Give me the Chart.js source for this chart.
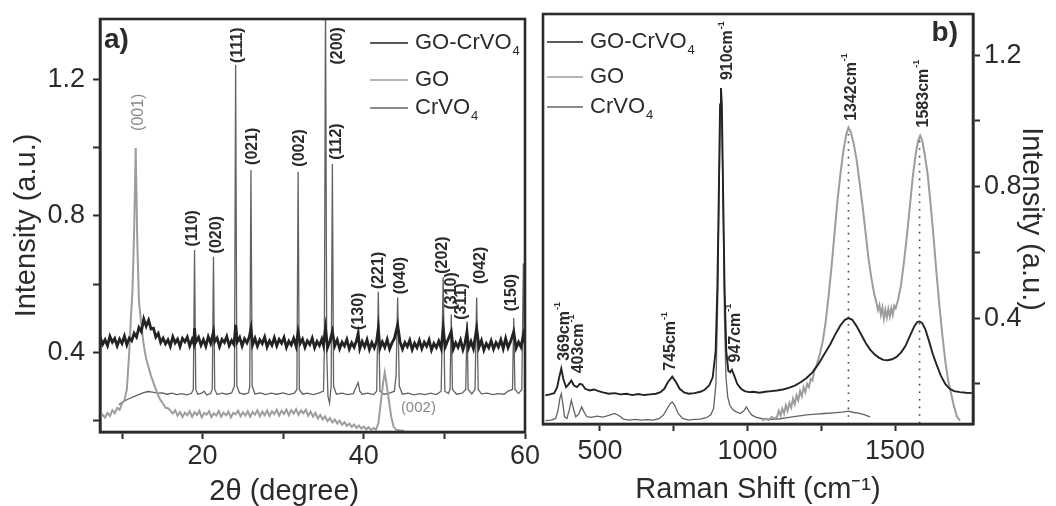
<!DOCTYPE html>
<html>
<head>
<meta charset="utf-8">
<title>XRD and Raman spectra</title>
<script src="https://cdn.jsdelivr.net/npm/chart.js@4.4.1/dist/chart.umd.min.js"></script>
<style>
  body { margin: 0; background: #fff; }
  #wrap { position: relative; width: 1056px; height: 506px; overflow: hidden; }
  canvas { position: absolute; top: 0; }
  #xrd { left: 0; }
  #raman { left: 530px; }
</style>
</head>
<body>
<div id="wrap">
  <canvas id="xrd" width="545" height="506"></canvas>
  <canvas id="raman" width="526" height="506"></canvas>
</div>
<script>
// Data
const seriesNames = ["GO-CrVO4", "GO", "CrVO4"];

// a) XRD, x = 2θ in degrees
const xrdComposite = [[7.3,0.443],[7.6,0.423],[7.9,0.436],[8.2,0.419],[8.5,0.446],[8.8,0.429],[9.1,0.44],[9.4,0.418],[9.7,0.438],[10.0,0.425],[10.3,0.447],[10.6,0.421],[10.9,0.441],[11.2,0.433],[11.5,0.455],[11.8,0.444],[12.1,0.472],[12.4,0.46],[12.7,0.497],[13.0,0.476],[13.3,0.494],[13.6,0.468],[13.9,0.47],[14.2,0.444],[14.5,0.455],[14.8,0.428],[15.1,0.441],[15.4,0.424],[15.7,0.436],[16.0,0.417],[16.3,0.445],[16.6,0.427],[16.9,0.438],[17.2,0.416],[17.5,0.44],[17.8,0.43],[18.1,0.444],[18.4,0.418],[18.7,0.437],[18.9,0.425],[19.0,0.47],[19.15,0.428],[19.5,0.443],[19.8,0.42],[20.1,0.436],[20.4,0.417],[20.7,0.445],[21.0,0.426],[21.35,0.46],[21.5,0.43],[21.8,0.441],[22.1,0.416],[22.4,0.437],[22.7,0.428],[23.0,0.446],[23.3,0.419],[23.6,0.434],[23.9,0.422],[24.1,0.48],[24.3,0.43],[24.6,0.443],[24.9,0.418],[25.2,0.439],[25.5,0.427],[25.8,0.445],[26.0,0.47],[26.2,0.421],[26.5,0.44],[26.8,0.417],[27.1,0.436],[27.4,0.425],[27.7,0.444],[28.0,0.415],[28.3,0.433],[28.6,0.42],[28.9,0.442],[29.2,0.418],[29.5,0.437],[29.8,0.426],[30.1,0.443],[30.4,0.414],[30.7,0.432],[31.0,0.421],[31.3,0.44],[31.6,0.417],[31.85,0.46],[32.1,0.425],[32.4,0.438],[32.7,0.414],[33.0,0.433],[33.3,0.422],[33.6,0.441],[33.9,0.413],[34.2,0.431],[34.5,0.419],[34.8,0.438],[35.0,0.42],[35.25,0.47],[35.5,0.413],[35.8,0.432],[36.1,0.46],[36.4,0.418],[36.7,0.436],[37.0,0.41],[37.3,0.429],[37.6,0.418],[37.9,0.437],[38.2,0.409],[38.5,0.427],[38.8,0.414],[39.1,0.434],[39.3,0.455],[39.5,0.41],[39.8,0.431],[40.1,0.415],[40.4,0.436],[40.7,0.408],[41.0,0.428],[41.3,0.412],[41.6,0.433],[41.8,0.47],[42.0,0.411],[42.3,0.43],[42.6,0.414],[42.9,0.437],[43.2,0.409],[43.5,0.427],[43.8,0.44],[44.2,0.48],[44.5,0.43],[44.8,0.409],[45.1,0.428],[45.4,0.416],[45.7,0.435],[46.0,0.407],[46.3,0.426],[46.6,0.413],[46.9,0.434],[47.2,0.41],[47.5,0.429],[47.8,0.417],[48.1,0.436],[48.4,0.406],[48.7,0.425],[49.0,0.413],[49.3,0.432],[49.6,0.411],[49.85,0.47],[50.1,0.415],[50.4,0.433],[50.85,0.46],[51.1,0.409],[51.4,0.427],[51.7,0.414],[52.0,0.435],[52.3,0.407],[52.55,0.426],[52.8,0.46],[53.0,0.412],[53.3,0.431],[53.6,0.41],[54.0,0.47],[54.3,0.415],[54.6,0.434],[54.9,0.406],[55.2,0.425],[55.5,0.413],[55.8,0.433],[56.1,0.409],[56.4,0.428],[56.7,0.415],[57.0,0.436],[57.3,0.41],[57.6,0.44],[57.9,0.413],[58.2,0.43],[58.6,0.46],[58.9,0.412],[59.2,0.429],[59.5,0.415],[59.8,0.45],[60,0.425]];

const xrdGO = [[7.3,0.205],[7.6,0.216],[7.9,0.207],[8.2,0.221],[8.5,0.212],[8.8,0.229],[9.1,0.22],[9.4,0.236],[9.7,0.23],[10.0,0.249],[10.3,0.258],[10.6,0.29],[10.9,0.4],[11.1,0.5],[11.3,0.58],[11.5,0.75],[11.7,1.0],[11.9,0.72],[12.1,0.55],[12.4,0.48],[12.7,0.42],[13.0,0.38],[13.3,0.355],[13.6,0.33],[13.9,0.31],[14.2,0.29],[14.5,0.272],[14.8,0.258],[15.1,0.248],[15.4,0.236],[15.7,0.235],[16.0,0.228],[16.3,0.219],[16.6,0.229],[16.9,0.213],[17.2,0.224],[17.5,0.209],[17.8,0.222],[18.1,0.214],[18.4,0.226],[18.7,0.21],[19.0,0.223],[19.3,0.215],[19.6,0.227],[19.9,0.208],[20.2,0.221],[20.5,0.216],[20.8,0.226],[21.1,0.209],[21.4,0.22],[21.7,0.213],[22.0,0.227],[22.3,0.21],[22.6,0.222],[22.9,0.214],[23.2,0.225],[23.5,0.208],[23.8,0.221],[24.1,0.217],[24.4,0.228],[24.7,0.211],[25.0,0.223],[25.3,0.213],[25.6,0.226],[25.9,0.21],[26.2,0.224],[26.5,0.216],[26.8,0.229],[27.1,0.211],[27.4,0.225],[27.7,0.214],[28.0,0.228],[28.3,0.212],[28.6,0.226],[28.9,0.217],[29.2,0.23],[29.5,0.213],[29.8,0.227],[30.1,0.218],[30.4,0.231],[30.7,0.214],[31.0,0.229],[31.3,0.219],[31.6,0.232],[31.9,0.215],[32.2,0.228],[32.5,0.22],[32.8,0.23],[33.1,0.213],[33.4,0.225],[33.7,0.21],[34.0,0.221],[34.3,0.205],[34.6,0.215],[34.9,0.202],[35.2,0.211],[35.5,0.197],[35.8,0.206],[36.1,0.193],[36.4,0.202],[36.7,0.19],[37.0,0.198],[37.3,0.186],[37.6,0.194],[37.9,0.183],[38.2,0.19],[38.5,0.18],[38.8,0.187],[39.1,0.177],[39.4,0.184],[39.7,0.175],[40.0,0.181],[40.3,0.173],[40.6,0.179],[40.9,0.171],[41.2,0.177],[41.5,0.172],[41.8,0.19],[42.1,0.25],[42.4,0.31],[42.6,0.34],[42.8,0.31],[43.1,0.26],[43.4,0.21],[43.7,0.18],[44.0,0.172],[44.5,0.17],[45.0,0.169]];

const xrdCrVO4 = [[9.6,0.245],[10.2,0.255],[10.8,0.262],[11.4,0.268],[12.0,0.274],[12.6,0.28],[13.2,0.284],[13.8,0.282],[14.4,0.279],[15.0,0.28],[15.6,0.276],[16.2,0.279],[16.8,0.275],[17.4,0.278],[18.0,0.274],[18.6,0.278],[18.85,0.29],[19.0,0.70],[19.15,0.29],[19.4,0.276],[19.9,0.279],[20.2,0.285],[20.5,0.274],[21.0,0.278],[21.2,0.29],[21.35,0.68],[21.5,0.29],[21.8,0.275],[22.4,0.279],[23.0,0.276],[23.6,0.28],[23.95,0.3],[24.1,1.244],[24.25,0.3],[24.6,0.279],[25.2,0.276],[25.7,0.28],[25.85,0.3],[26.0,0.935],[26.15,0.3],[26.5,0.277],[27.2,0.28],[27.8,0.275],[28.5,0.279],[29.2,0.276],[30.0,0.28],[30.7,0.275],[31.4,0.279],[31.7,0.29],[31.85,0.93],[32.0,0.29],[32.4,0.276],[33.0,0.279],[33.7,0.275],[34.4,0.279],[35.0,0.285],[35.1,0.4],[35.25,1.45],[35.4,0.4],[35.55,0.27],[35.75,0.25],[35.95,0.3],[36.1,0.953],[36.25,0.3],[36.6,0.276],[37.3,0.279],[38.0,0.275],[38.7,0.278],[39.1,0.3],[39.3,0.31],[39.5,0.285],[39.8,0.276],[40.5,0.279],[41.2,0.275],[41.6,0.285],[41.8,0.577],[42.0,0.285],[42.5,0.276],[43.2,0.279],[43.8,0.285],[44.0,0.33],[44.2,0.56],[44.4,0.3],[44.8,0.276],[45.5,0.279],[46.2,0.274],[46.9,0.278],[47.6,0.275],[48.3,0.279],[49.0,0.275],[49.6,0.285],[49.85,0.62],[50.05,0.285],[50.5,0.278],[50.7,0.29],[50.85,0.51],[51.0,0.29],[51.5,0.276],[52.2,0.279],[52.65,0.29],[52.8,0.49],[52.95,0.29],[53.4,0.277],[53.8,0.29],[54.0,0.56],[54.2,0.29],[54.6,0.277],[55.3,0.279],[56.0,0.275],[56.7,0.278],[57.4,0.276],[57.9,0.285],[58.45,0.29],[58.6,0.50],[58.75,0.29],[59.2,0.278],[59.6,0.29],[59.8,0.66],[60,0.3]];

// Miller indices: [text, 2θ, intensity at the foot of the text]
const xrdPeakLabels = [["(110)",18.7,0.71],["(020)",21.7,0.69],["(111)",24.4,1.25],["(021)",26.2,0.95],["(002)",32.0,0.945],["(200)",36.7,1.245],["(112)",36.6,0.965],["(130)",39.4,0.465],["(221)",41.8,0.585],["(040)",44.6,0.57],["(202)",49.8,0.63],["(310)",50.9,0.525],["(311)",52.1,0.495],["(042)",54.5,0.60],["(150)",58.3,0.52]];
const xrdGoLabels = [["(001)",12.1,1.05]];
const xrdGoFlatLabels = [["(002)",44.6,0.235]];

const xrdXTicks = [10, 20, 30, 40, 50, 60];
const xrdXLabels = ["", "20", "", "40", "", "60"];
const xrdYTicks = [0.2, 0.4, 0.6, 0.8, 1.0, 1.2];
const xrdYLabels = ["", "0.4", "", "0.8", "", "1.2"];

// b) Raman, x = shift in cm-1
const ramanComposite = [[315,0.165],[330,0.168],[345,0.172],[355,0.19],[362,0.22],[369,0.247],[376,0.215],[385,0.19],[393,0.198],[403,0.21],[412,0.195],[422,0.19],[432,0.2],[440,0.198],[450,0.185],[465,0.18],[480,0.183],[495,0.178],[510,0.174],[530,0.17],[550,0.172],[570,0.168],[590,0.17],[610,0.166],[630,0.169],[650,0.166],[670,0.168],[690,0.17],[705,0.175],[718,0.185],[730,0.205],[745,0.222],[758,0.205],[770,0.185],[785,0.174],[800,0.17],[820,0.172],[840,0.176],[855,0.182],[870,0.195],[882,0.22],[892,0.3],[898,0.5],[903,0.8],[907,1.05],[910,1.10],[913,1.05],[917,0.8],[922,0.5],[928,0.3],[935,0.24],[941,0.235],[947,0.243],[955,0.225],[965,0.2],[978,0.185],[990,0.178],[1005,0.175],[1020,0.176],[1040,0.173],[1060,0.176],[1080,0.178],[1100,0.18],[1120,0.183],[1140,0.188],[1160,0.195],[1180,0.205],[1200,0.218],[1220,0.235],[1240,0.26],[1260,0.29],[1280,0.32],[1300,0.355],[1315,0.378],[1330,0.395],[1342,0.40],[1355,0.395],[1370,0.375],[1385,0.35],[1400,0.325],[1415,0.305],[1430,0.29],[1445,0.28],[1460,0.273],[1475,0.272],[1490,0.275],[1505,0.282],[1520,0.295],[1535,0.315],[1550,0.345],[1565,0.375],[1575,0.388],[1583,0.39],[1592,0.385],[1603,0.365],[1615,0.33],[1628,0.29],[1640,0.26],[1655,0.225],[1670,0.2],[1685,0.185],[1700,0.178],[1720,0.175],[1740,0.173],[1760,0.172]];

const ramanGO = [[1050,0.088],[1062,0.094],[1072,0.09],[1082,0.1],[1090,0.094],[1100,0.1],[1106,0.118],[1112,0.104],[1118,0.125],[1124,0.11],[1130,0.135],[1136,0.118],[1142,0.142],[1148,0.128],[1154,0.155],[1160,0.138],[1166,0.165],[1172,0.15],[1178,0.178],[1184,0.162],[1190,0.19],[1196,0.175],[1202,0.2],[1208,0.19],[1214,0.215],[1220,0.21],[1226,0.238],[1235,0.26],[1245,0.29],[1255,0.33],[1265,0.39],[1275,0.47],[1285,0.56],[1295,0.66],[1305,0.76],[1315,0.84],[1325,0.91],[1335,0.96],[1342,0.98],[1350,0.965],[1360,0.93],[1370,0.88],[1380,0.81],[1390,0.74],[1400,0.66],[1410,0.58],[1420,0.52],[1430,0.47],[1436,0.45],[1442,0.425],[1447,0.44],[1452,0.41],[1457,0.432],[1462,0.398],[1467,0.425],[1472,0.402],[1477,0.428],[1482,0.405],[1487,0.43],[1492,0.41],[1497,0.438],[1502,0.43],[1510,0.455],[1520,0.5],[1530,0.57],[1540,0.65],[1550,0.74],[1560,0.83],[1570,0.9],[1578,0.94],[1585,0.955],[1592,0.94],[1600,0.9],[1610,0.84],[1620,0.75],[1630,0.65],[1640,0.54],[1650,0.44],[1660,0.35],[1670,0.27],[1680,0.21],[1690,0.17],[1700,0.13],[1710,0.1],[1720,0.088]];

const ramanCrVO4 = [[315,0.088],[335,0.09],[350,0.095],[358,0.12],[364,0.155],[369,0.17],[374,0.14],[380,0.1],[388,0.095],[396,0.12],[403,0.15],[410,0.125],[418,0.1],[428,0.108],[438,0.13],[446,0.115],[456,0.1],[470,0.098],[490,0.102],[510,0.099],[530,0.104],[550,0.11],[565,0.103],[580,0.093],[600,0.09],[620,0.092],[640,0.09],[660,0.091],[680,0.09],[700,0.094],[715,0.105],[728,0.125],[738,0.14],[745,0.145],[753,0.135],[765,0.11],[780,0.095],[800,0.09],[820,0.092],[840,0.093],[860,0.097],[875,0.105],[885,0.125],[893,0.2],[899,0.45],[904,0.8],[908,1.03],[911,1.06],[914,0.95],[918,0.7],[922,0.4],[927,0.22],[933,0.16],[940,0.135],[950,0.122],[962,0.115],[975,0.11],[988,0.118],[996,0.13],[1004,0.118],[1015,0.105],[1030,0.098],[1050,0.094],[1080,0.092],[1110,0.094],[1140,0.098],[1170,0.102],[1200,0.106],[1230,0.108],[1260,0.11],[1290,0.112],[1320,0.114],[1342,0.117],[1360,0.113],[1380,0.11],[1400,0.105],[1415,0.1]];

// band positions: [text, shift, intensity at the foot of the text]
const ramanPeakLabels = [["369cm^-1",380,0.27],["403cm^-1",427,0.232],["745cm^-1",741,0.24],["910cm^-1",933,1.124],["947cm^-1",958,0.265],["1342cm^-1",1353,1.0],["1583cm^-1",1597,0.98]];
// dotted guides under the D and G bands: [shift, top intensity]
const ramanGuides = [[1342,0.96],[1583,0.94]];

const ramanXTicks = [500, 750, 1000, 1250, 1500];
const ramanXLabels = ["500", "", "1000", "", "1500"];
const ramanYTicks = [0.2, 0.4, 0.6, 0.8, 1.0, 1.2];
const ramanYLabels = ["", "0.4", "", "0.8", "", "1.2"];

// Styles
const ink = "#2b2b2b";
const family = '"Liberation Sans", Arial, Helvetica, sans-serif';
const seriesColors = ["#232323", "#9d9d9d", "#636363"];

// text with a trailing sub (_) or superscript (^) part
function drawRich(ctx, text, x, y, size, weight) {
  const m = text.match(/^([^_^]*)([_^]?)(.*)$/);
  ctx.font = `${weight} ${size}px ${family}`;
  ctx.fillText(m[1], x, y);
  if (m[2]) {
    const w = ctx.measureText(m[1]).width;
    const small = Math.round(size * 0.58);
    ctx.font = `${weight} ${small}px ${family}`;
    const dy = m[2] === "^" ? -size * 0.42 : size * 0.38;
    ctx.fillText(m[3], x + w + 1, y + dy);
  }
}

function subscriptName(name) {
  return name.replace(/(\d)$/, "_$1");
}

function figurePlugin(cfg) {
  return {
    id: "figureExtras",
    afterDatasetsDraw(chart) {
      const { ctx, chartArea: a, scales: { x, y } } = chart;
      ctx.save();

      // dotted guides
      ctx.strokeStyle = "#444";
      ctx.lineWidth = 1.6;
      ctx.setLineDash([1.6, 6]);
      (cfg.guides || []).forEach(([gx, top]) => {
        const px = x.getPixelForValue(gx);
        ctx.beginPath();
        ctx.moveTo(px, y.getPixelForValue(top));
        ctx.lineTo(px, a.bottom);
        ctx.stroke();
      });
      ctx.setLineDash([]);

      // rotated peak labels
      ctx.textAlign = "left";
      ctx.textBaseline = "middle";
      (cfg.peakGroups || []).forEach(group => {
        group.labels.forEach(([text, px, py]) => {
          ctx.save();
          ctx.translate(x.getPixelForValue(px), y.getPixelForValue(py));
          ctx.rotate(-Math.PI / 2);
          ctx.fillStyle = group.color;
          drawRich(ctx, text, 0, 0, group.size, group.weight);
          ctx.restore();
        });
      });

      // flat labels
      (cfg.flatLabels || []).forEach(([text, px, py]) => {
        ctx.fillStyle = "#8a8a8a";
        drawRich(ctx, text, x.getPixelForValue(px), y.getPixelForValue(py), 15, "normal");
      });

      // frame
      ctx.strokeStyle = ink;
      ctx.lineWidth = 2.6;
      ctx.strokeRect(a.left, a.top, a.right - a.left, a.bottom - a.top);

      // panel letter
      ctx.fillStyle = ink;
      ctx.textAlign = cfg.letter.align;
      ctx.font = `bold 28px ${family}`;
      const lx = cfg.letter.align === "left" ? a.left + cfg.letter.dx : a.right - cfg.letter.dx;
      ctx.fillText(cfg.letter.text, lx, a.top + cfg.letter.dy);

      // legend
      const lg = cfg.legend;
      ctx.textAlign = "left";
      chart.data.datasets.forEach((ds, i) => {
        const ly = a.top + lg.y[i];
        ctx.strokeStyle = ds.borderColor;
        ctx.lineWidth = 1.6;
        ctx.beginPath();
        ctx.moveTo(a.left + lg.x0, ly);
        ctx.lineTo(a.left + lg.x1, ly);
        ctx.stroke();
        ctx.fillStyle = ink;
        drawRich(ctx, subscriptName(ds.label), a.left + lg.tx, ly, 22, "normal");
      });

      ctx.restore();
    }
  };
}

function tickAxis(ticks, labels, fitSize, horizontal, tickPad, extra) {
  return Object.assign({
    type: "linear",
    afterBuildTicks: s => { s.ticks = ticks.map(v => ({ value: v })); },
    afterFit: s => {
      if (horizontal) { s.height = fitSize; s.paddingLeft = 0; s.paddingRight = 0; }
      else { s.width = fitSize; s.paddingTop = 0; s.paddingBottom = 0; }
    },
    ticks: {
      autoSkip: false, maxRotation: 0, minRotation: 0, includeBounds: false, padding: tickPad,
      color: ink, font: { family, size: 27 },
      callback: (v, i) => labels[i]
    },
    grid: { drawOnChartArea: false, drawTicks: true, tickLength: 7, tickWidth: 2, tickColor: ink, color: ink },
    border: { display: true, color: ink, width: 2.6 }
  }, extra);
}

function axisTitle(text, pad) {
  return { display: true, text, color: ink, font: { family, size: 29 }, padding: pad };
}

function lineSet(label, points, color, width) {
  return {
    label,
    data: points.map(([x, y]) => ({ x, y })),
    borderColor: color,
    borderWidth: width,
    pointRadius: 0,
    tension: 0,
    fill: false
  };
}

const common = {
  responsive: false,
  animation: false,
  events: [],
  plugins: { legend: { display: false }, tooltip: { enabled: false } }
};

// a) XRD
new Chart(document.getElementById("xrd"), {
  type: "line",
  data: {
    datasets: [
      lineSet(seriesNames[0], xrdComposite, seriesColors[0], 2.8),
      lineSet(seriesNames[1], xrdGO, seriesColors[1], 2),
      lineSet(seriesNames[2], xrdCrVO4, seriesColors[2], 1.3)
    ]
  },
  options: Object.assign({}, common, {
    layout: { padding: { left: 0, top: 19, right: 20, bottom: 0 } },
    scales: {
      x: tickAxis(xrdXTicks, xrdXLabels, 74, true, 1, {
        min: 7.27, max: 60,
        title: axisTitle("2θ (degree)\u00a0\u00a0\u00a0\u00a0\u00a0\u00a0\u00a0", { top: 0, bottom: -3 })
      }),
      y: tickAxis(xrdYTicks, xrdYLabels, 100, false, 8, {
        position: "left", min: 0.165, max: 1.379,
        title: axisTitle("Intensity (a.u.)", { top: 10, bottom: 0 })
      })
    }
  }),
  plugins: [figurePlugin({
    peakGroups: [
      { labels: xrdPeakLabels, color: ink, size: 16, weight: "bold" },
      { labels: xrdGoLabels, color: "#8a8a8a", size: 16, weight: "normal" }
    ],
    flatLabels: xrdGoFlatLabels,
    letter: { text: "a)", align: "left", dx: 4, dy: 21 },
    legend: { x0: 270, x1: 308, tx: 315, y: [24, 61, 89] }
  })]
});

// b) Raman
new Chart(document.getElementById("raman"), {
  type: "line",
  data: {
    datasets: [
      lineSet(seriesNames[0], ramanComposite, seriesColors[0], 1.9),
      lineSet(seriesNames[1], ramanGO, seriesColors[1], 2),
      lineSet(seriesNames[2], ramanCrVO4, seriesColors[2], 1.3)
    ]
  },
  options: Object.assign({}, common, {
    layout: { padding: { left: 13, top: 14, right: 0, bottom: 0 } },
    scales: {
      x: tickAxis(ramanXTicks, ramanXLabels, 82, true, 4, {
        min: 307, max: 1764,
        title: axisTitle("Raman Shift (cm\u207B\u00B9)", { top: 0, bottom: -1 })
      }),
      y: tickAxis(ramanYTicks, ramanYLabels, 83, false, 4, {
        position: "right", min: 0.078, max: 1.325,
        title: axisTitle("Intensity (a.u.)", { top: 8, bottom: 0 })
      })
    }
  }),
  plugins: [figurePlugin({
    guides: ramanGuides,
    peakGroups: [{ labels: ramanPeakLabels, color: ink, size: 16, weight: "bold" }],
    letter: { text: "b)", align: "right", dx: 15, dy: 19 },
    legend: { x0: 4, x1: 40, tx: 47, y: [28, 63, 93] }
  })]
});
</script>
</body>
</html>
